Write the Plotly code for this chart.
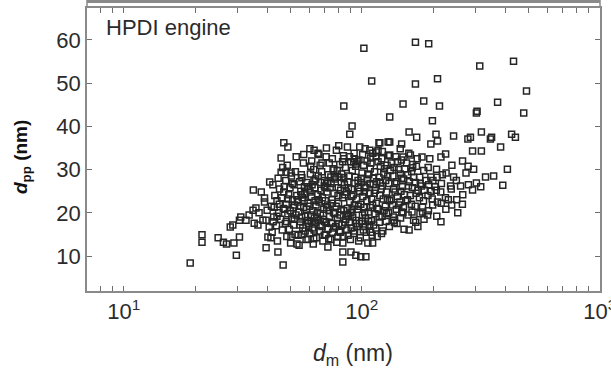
import plotly.graph_objects as go
import math

# ---- sparse upper / right points ----
dm_hi = [102, 168, 191, 313, 434, 110, 168, 208, 492, 84,
         149, 182, 212, 372, 303, 305, 479, 131, 198, 91,
         89, 158, 170, 205, 243, 286, 318, 351, 426, 442,
         131, 147, 195, 208, 279, 292, 318, 383, 409, 391,
         358, 331, 303, 292, 316, 265, 253, 295, 260, 225,
         215, 193, 179, 160, 149, 131, 163, 206, 243, 274,
         195, 236, 231, 208, 189, 180, 215, 165, 136, 180,
         149, 347, 87, 84, 93, 95, 118, 117, 129, 109,
         115, 119]
dpp_hi = [58.1, 59.5, 59.1, 54.0, 55.1, 50.5, 49.8, 51.0, 48.2, 44.7,
          45.2, 45.9, 44.7, 45.6, 43.1, 43.5, 43.1, 42.2, 41.3, 40.1,
          38.2, 38.7, 37.5, 38.2, 37.8, 37.5, 38.7, 37.5, 38.2, 37.5,
          36.4, 35.9, 35.9, 36.6, 37.1, 34.3, 34.3, 35.2, 30.1, 26.4,
          28.5, 28.3, 26.9, 25.3, 26.0, 32.0, 20.0, 30.1, 26.2, 33.6,
          32.9, 32.5, 32.9, 33.4, 32.9, 33.4, 30.4, 30.1, 28.3, 29.2,
          28.3, 26.2, 23.0, 22.5, 19.5, 21.3, 17.9, 18.3, 18.3, 20.2,
          20.0, 37.1, 35.2, 32.5, 32.5, 31.3, 36.2, 34.5, 36.4, 32.7,
          34.1, 36.2]

# ---- sparse left / lower points ----
dm_lo = [19, 21.3, 21.3, 24.9, 26.2, 27, 29, 30.6, 29.7, 28,
         28.7, 31, 30.6, 35, 37.8, 41, 39, 39, 40, 39.6,
         44.4, 46.7, 45.8, 45.8, 32.6, 33.6, 34.9, 35.9, 37, 35.3,
         36.6, 38.4, 39.6, 40.8, 42.4, 40.3, 41.5, 42.8, 48, 50.4,
         47, 48.9, 60.5, 63, 65.4, 72, 79.3, 83.2, 83.2, 83.2,
         90, 94.4, 99, 104, 106, 111, 59.4, 50.4, 53.4, 76.3,
         74.1, 92.5, 56, 63, 72, 84, 116, 121, 158, 172]
dpp_lo = [8.4, 14.9, 13.2, 14.2, 13.2, 12.8, 13.0, 14.4, 10.2, 16.7,
          17.2, 19.0, 18.3, 25.3, 24.8, 27.1, 23.4, 22.5, 20.6, 11.9,
          10.9, 7.9, 32.7, 29.4, 18.3, 19.5, 20.6, 21.1, 20.0, 17.6,
          17.2, 18.3, 18.3, 16.7, 17.9, 14.4, 14.2, 21.3, 29.4, 29.2,
          36.2, 35.2, 34.8, 34.5, 33.8, 12.1, 14.4, 13.0, 10.9, 8.6,
          10.9, 10.2, 9.8, 9.8, 13.0, 13.0, 13.9, 14.4, 12.8, 29.9,
          28.3, 31.8, 28.1, 27.4, 27.1, 28.1, 14.5, 15.2, 16.0, 16.8]

# ---- dense core ----
dm_core = [42.0, 42.6, 41.7, 43.1, 42.3, 44.2, 43.8, 44.7, 44.0, 45.1,
           44.5, 46.3, 45.6, 46.8, 46.0, 47.2, 46.5, 48.4, 47.7, 48.9,
           48.1, 49.3, 47.9, 48.6, 50.2, 49.6, 50.8, 50.0, 51.2, 49.9,
           50.6, 52.4, 51.7, 52.9, 52.1, 53.3, 51.9, 52.6, 53.0, 54.5,
           54.0, 55.1, 54.3, 53.8, 55.4, 54.8, 56.5, 55.9, 57.0, 56.2,
           57.4, 55.7, 56.8, 58.3, 57.8, 59.0, 58.5, 59.4, 57.6, 58.8,
           60.4, 59.7, 61.0, 60.2, 61.4, 59.9, 60.8, 61.6, 62.5, 62.0,
           63.2, 62.3, 63.6, 61.8, 62.8, 64.4, 63.9, 65.0, 64.2, 65.3,
           64.0, 66.5, 65.8, 67.0, 66.2, 67.4, 65.6, 66.8, 68.6, 68.0,
           69.2, 68.3, 69.6, 67.8, 70.5, 69.9, 71.1, 70.2, 71.4, 69.7,
           70.8, 72.6, 72.0, 73.2, 71.8, 73.6, 72.3, 73.0, 75.4, 74.6,
           76.0, 75.0, 76.4, 74.3, 75.7, 78.5, 77.6, 79.0, 78.0, 79.4,
           77.3, 78.8, 78.2, 80.5, 81.0, 79.8, 81.5, 80.2, 80.8, 83.4,
           82.6, 84.0, 83.0, 84.5, 82.2, 83.7, 86.5, 85.6, 87.0, 86.0,
           87.4, 85.3, 89.5, 88.6, 90.0, 89.0, 90.5, 88.2, 89.8, 92.4,
           91.6, 93.0, 92.0, 93.5, 91.2, 92.8, 95.5, 94.6, 96.0, 95.0,
           96.4, 94.2, 98.5, 97.6, 99.0, 98.0, 99.5, 97.2, 101.5, 100.6,
           102.0, 101.0, 102.6, 100.2, 101.8, 104.5, 103.6, 105.0, 104.0, 105.5,
           103.2, 107.5, 106.6, 108.0, 107.0, 108.5, 110.5, 109.6, 111.0, 110.0,
           111.6, 109.2, 114.5, 113.6, 115.0, 114.0, 115.6, 113.2, 114.8, 118.5,
           117.6, 119.0, 118.0, 119.6, 122.5, 121.6, 123.0, 122.0, 123.6, 121.2,
           126.5, 125.6, 127.0, 126.0, 127.6, 130.5, 129.6, 131.0, 130.0, 131.6,
           129.2, 135.5, 134.6, 136.0, 135.0, 136.6, 140.5, 139.6, 141.0, 140.0,
           141.6, 145.5, 144.6, 146.0, 145.0, 146.6, 150.5, 149.6, 151.0, 150.0,
           151.6, 156.5, 155.6, 157.0, 156.0, 157.6, 162.5, 161.6, 163.0, 162.0,
           163.6, 168.5, 167.6, 169.0, 168.0, 169.6, 175.5, 174.6, 176.0, 175.0,
           182.5, 181.6, 183.0, 182.0, 190.5, 189.6, 191.0, 190.0, 198.5, 197.6,
           199.0, 206.5, 205.6, 207.0, 215.5, 214.6, 216.0, 225.5, 224.6, 226.0,
           238.5, 237.6, 239.0, 250.5, 249.6, 265.5, 264.6, 280.5, 279.6, 88.0]
dpp_core = [15.5, 19.0, 21.5, 24.0, 26.5, 13.5, 17.0, 20.0, 22.8, 25.5,
            28.0, 16.0, 18.5, 21.0, 23.5, 26.0, 30.5, 14.5, 17.5, 19.8,
            22.0, 24.2, 27.5, 31.0, 13.0, 16.2, 18.8, 20.5, 23.0, 25.8,
            28.5, 15.0, 17.2, 19.5, 21.8, 24.0, 26.5, 29.5, 33.0, 12.5,
            14.8, 18.0, 20.2, 22.5, 25.0, 27.2, 16.5, 19.0, 21.2, 23.5,
            26.0, 28.8, 31.5, 13.8, 15.8, 18.2, 20.8, 22.2, 24.5, 27.0,
            15.2, 17.5, 19.5, 21.5, 23.8, 25.5, 29.0, 32.0, 12.8, 16.5,
            18.8, 20.5, 22.8, 26.5, 30.0, 14.2, 17.8, 20.0, 21.8, 24.2,
            27.8, 15.8, 18.2, 19.8, 22.5, 25.2, 28.5, 31.0, 13.5, 16.8,
            20.8, 23.5, 26.2, 29.5, 15.0, 18.0, 21.2, 22.8, 24.8, 27.5,
            33.0, 14.0, 16.2, 19.2, 21.8, 25.8, 28.8, 31.5, 15.5, 17.5,
            20.0, 23.0, 24.5, 26.8, 30.2, 13.2, 16.8, 18.8, 21.5, 24.0,
            27.8, 29.8, 34.5, 15.8, 19.5, 22.2, 25.2, 28.2, 31.2, 14.5,
            17.2, 20.5, 23.5, 26.5, 29.0, 33.2, 16.0, 18.5, 21.0, 24.8,
            27.2, 30.5, 13.8, 17.8, 20.0, 22.5, 25.5, 28.5, 31.8, 15.2,
            19.0, 21.8, 24.2, 26.8, 29.8, 33.8, 16.8, 18.2, 20.8, 23.2,
            27.5, 30.8, 14.2, 17.5, 22.0, 25.0, 28.0, 32.2, 16.0, 19.5,
            21.2, 23.8, 26.2, 29.2, 31.0, 15.5, 18.8, 22.8, 25.8, 27.8,
            34.8, 17.2, 20.2, 24.5, 28.8, 30.2, 14.8, 18.2, 21.8, 23.2,
            26.5, 31.5, 16.5, 19.8, 22.2, 25.2, 27.2, 29.5, 33.0, 17.8,
            20.8, 24.0, 28.2, 30.8, 15.8, 19.2, 23.2, 26.2, 29.2, 32.5,
            18.0, 21.5, 24.8, 27.5, 31.0, 16.8, 20.0, 22.8, 26.8, 29.8,
            33.2, 19.0, 21.8, 25.5, 28.5, 30.5, 17.5, 20.8, 23.8, 27.2,
            31.8, 18.8, 22.5, 25.0, 29.0, 32.2, 16.2, 21.2, 24.2, 27.8,
            30.2, 19.5, 23.0, 26.2, 28.8, 33.8, 20.2, 22.0, 25.8, 29.5,
            31.2, 17.8, 21.5, 24.5, 27.0, 30.8, 19.8, 23.5, 26.8, 28.2,
            18.5, 22.8, 25.2, 29.8, 20.5, 24.0, 26.5, 30.5, 21.8, 23.2,
            27.5, 19.2, 25.2, 28.2, 22.2, 24.8, 26.8, 20.8, 23.5, 29.2,
            21.8, 25.5, 31.0, 23.0, 27.5, 24.2, 22.0, 26.5, 30.8, 19.2]

# ---- extra points filling the dark centre of the cloud ----
dm_mid = [47.5, 51.5, 55.0, 58.0, 61.2, 64.8, 68.8, 72.8, 77.0, 81.8,
          86.8, 91.0, 96.8, 102.8, 108.8, 116.0, 124.0, 133.0, 143.0, 153.0,
          49.0, 53.6, 57.2, 60.6, 65.6, 70.0, 74.8, 79.6, 84.8, 90.8,
          96.6, 102.4, 108.2, 112.8, 120.5, 128.0, 138.0, 148.0, 160.0, 172.0,
          45.0, 47.0, 51.0, 55.6, 59.2, 63.4, 67.2, 71.6, 76.8, 82.0,
          87.8, 93.8, 99.8, 106.0, 112.0, 119.8, 128.6, 137.6, 147.0, 158.0,
          44.0, 48.2, 52.0, 55.2, 59.8, 63.0, 66.8, 71.0, 76.2, 80.0,
          85.0, 90.2, 94.8, 100.0, 106.8, 112.2, 118.2, 127.0, 137.0, 147.2,
          61.0, 68.0, 75.2, 83.0, 88.8, 95.6, 100.8, 105.2, 111.2, 117.0,
          124.5, 133.0, 142.5, 154.0, 165.0, 178.0, 186.0, 195.5, 203.0, 218.0,
          56.0, 62.8, 69.5, 74.0, 81.2, 87.6, 93.2, 97.0, 103.0, 109.0,
          57.0, 66.0, 71.0, 80.0, 98.0, 108.0, 122.0, 139.0, 145.0, 171.0]
dpp_mid = [20.8, 21.2, 17.2, 19.2, 18.0, 19.0, 18.5, 20.5, 19.8, 20.8,
           19.5, 20.8, 21.5, 20.0, 21.2, 21.0, 20.5, 23.2, 21.8, 22.8,
           23.2, 23.0, 22.8, 24.8, 23.0, 25.8, 22.2, 25.8, 24.2, 23.8,
           25.8, 24.8, 26.8, 24.5, 25.5, 23.0, 24.8, 26.0, 24.0, 25.2,
           22.0, 24.8, 26.8, 24.2, 26.0, 25.8, 27.0, 26.8, 28.2, 27.0,
           25.8, 28.2, 27.0, 29.0, 28.0, 27.0, 28.5, 26.8, 28.0, 27.2,
           19.2, 18.0, 18.5, 21.5, 16.8, 16.0, 17.2, 17.8, 16.5, 17.5,
           17.8, 16.5, 17.5, 18.0, 18.0, 17.2, 19.0, 19.8, 17.8, 20.2,
           30.8, 31.5, 32.5, 31.8, 33.0, 31.8, 33.5, 32.0, 33.8, 31.8,
           30.2, 31.5, 30.0, 31.5, 28.2, 26.2, 27.5, 25.0, 26.0, 28.8,
           15.0, 14.0, 14.8, 13.8, 15.5, 14.8, 15.8, 13.5, 16.8, 15.5,
           33.5, 33.5, 35.0, 35.5, 35.2, 34.5, 34.2, 33.0, 34.8, 32.5]

x_range = [7, 1002]
y_range = [1.9, 67.4]
x_major = [10, 100, 1000]
x_major_text = ["10<sup>1</sup>", "10<sup>2</sup>", "10<sup>3</sup>"]
x_minor = [8, 9, 20, 30, 40, 50, 60, 70, 80, 90,
           200, 300, 400, 500, 600, 700, 800, 900]
y_tickvals = [10, 20, 30, 40, 50, 60]

dm_all = dm_core + dm_mid + dm_lo + dm_hi
dpp_all = dpp_core + dpp_mid + dpp_lo + dpp_hi

x_ticks = x_major + x_minor
x_ticks_text = x_major_text + [""] * len(x_minor)

FRAME = "#8a8a8a"
TICK = "#6e6e6e"
TXT = "#2b2b2b"
FONT = "Liberation Sans, Arial, Helvetica, sans-serif"

fig = go.Figure()
fig.add_trace(go.Scatter(
    x=dm_all, y=dpp_all, mode="markers",
    marker=dict(symbol="square-open", size=6, color="#262626",
                line=dict(width=1.5, color="#262626")),
    showlegend=False, hoverinfo="skip"))

lx = [math.log10(v) for v in x_range]
TOP_PX = 8
PLOT_H = 371 - 80 - TOP_PX

fig.update_layout(
    width=611, height=371,
    margin=dict(l=87, r=11, t=TOP_PX, b=80, autoexpand=False),
    paper_bgcolor="white", plot_bgcolor="white",
    font=dict(family=FONT, color=TXT),
    xaxis=dict(type="log", range=lx, tickmode="array", tickvals=x_ticks, ticktext=x_ticks_text,
               ticks="inside", ticklen=5, tickwidth=1.2, tickcolor=TICK,
               ticklabeloverflow="allow", automargin=False,
               showline=True, linecolor=FRAME, linewidth=1.5, mirror="ticks",
               showgrid=False, zeroline=False,
               tickfont=dict(size=22, color=TXT, family=FONT)),
    yaxis=dict(range=y_range, tickvals=y_tickvals, automargin=False,
               ticks="inside", ticklen=5, tickwidth=1.2, tickcolor=TICK,
               showline=True, linecolor=FRAME, linewidth=1.5, mirror="ticks",
               showgrid=False, zeroline=False,
               tickfont=dict(size=22, color=TXT, family=FONT)),
    shapes=[
        # bottom edge of the panel above (cut off at the top of the picture)
        dict(type="line", xref="paper", yref="paper",
             x0=0, x1=1, y0=1 + 6.5 / PLOT_H, y1=1 + 6.5 / PLOT_H,
             line=dict(color=FRAME, width=3)),
        dict(type="line", xref="paper", yref="paper",
             x0=0, x1=0, y0=1, y1=1 + 8 / PLOT_H, line=dict(color=FRAME, width=1.5)),
        dict(type="line", xref="paper", yref="paper",
             x0=1, x1=1, y0=1, y1=1 + 8 / PLOT_H, line=dict(color=FRAME, width=1.5)),
    ],
    annotations=[
        dict(text="HPDI engine", xref="paper", yref="paper",
             x=(104 - 87) / 513, y=(291 - 13) / PLOT_H, xanchor="left", yanchor="top",
             showarrow=False, font=dict(size=22, color=TXT, family=FONT)),
        dict(text="<i>d</i><sub>m</sub> (nm)", xref="paper", yref="paper",
             x=(353 - 87) / 513, y=(291 - 354) / PLOT_H, xanchor="center", yanchor="middle",
             showarrow=False, font=dict(size=23, color=TXT, family=FONT)),
        dict(text="<b><i>d</i><sub>pp</sub> (nm)</b>", xref="paper", yref="paper",
             x=(22 - 87) / 513, y=(291 - 157) / PLOT_H, xanchor="center", yanchor="middle",
             textangle=-90, showarrow=False, font=dict(size=19, color="#111111", family=FONT)),
    ],
)

fig.write_html("out.html")
